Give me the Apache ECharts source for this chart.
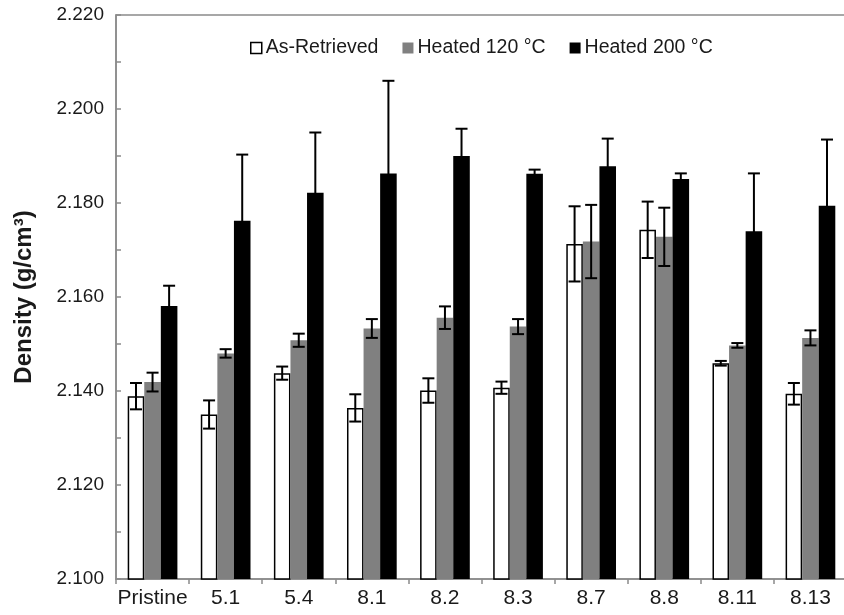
<!DOCTYPE html>
<html>
<head>
<meta charset="utf-8">
<script src="https://cdn.jsdelivr.net/npm/echarts@6/dist/echarts.min.js"></script>
<style>
  html, body { margin: 0; padding: 0; background: #fff; }
  #chart { width: 844px; height: 615px; }
</style>
</head>
<body>
<div id="chart"></div>
<script>
// Sample groups along the x axis
const categories = ['Pristine', '5.1', '5.4', '8.1', '8.2', '8.3', '8.7', '8.8', '8.11', '8.13'];

// Mean density (g/cm³) per treatment
const asRetrieved = [2.1389, 2.1350, 2.1438, 2.1364, 2.1401, 2.1407, 2.1713, 2.1743, 2.1459, 2.1394];
const heated120   = [2.1419, 2.1480, 2.1508, 2.1533, 2.1556, 2.1537, 2.1718, 2.1728, 2.1497, 2.1513];
const heated200   = [2.1581, 2.1762, 2.1822, 2.1863, 2.1900, 2.1862, 2.1878, 2.1851, 2.1740, 2.1794];

// Standard deviations (symmetric error bars)
const asRetrievedErr = [0.0028, 0.0030, 0.0014, 0.0029, 0.0026, 0.0013, 0.0080, 0.0060, 0.0005, 0.0023];
const heated120Err   = [0.0020, 0.0009, 0.0014, 0.0020, 0.0024, 0.0016, 0.0078, 0.0062, 0.0005, 0.0016];
const heated200Err   = [0.0043, 0.0141, 0.0128, 0.0197, 0.0058, 0.0009, 0.0059, 0.0012, 0.0123, 0.0141];

const seriesNames = ['As-Retrieved', 'Heated 120 °C', 'Heated 200 °C'];

const FONT = '"Liberation Sans", Arial, sans-serif';
const TEXT = '#1a1a1a';
const AXIS = '#8a8a8a';
const CAT_GAP = 0.32;

function errorSeries(idx, means, errs) {
  const data = means.map((m, i) => [i, m - errs[i], m + errs[i]]);
  return {
    type: 'custom',
    name: seriesNames[idx] + ' error',
    z: 10,
    silent: true,
    encode: { x: 0, y: [1, 2] },
    data: data,
    renderItem: function (params, api) {
      const band = api.size([1, 0])[0];
      const barW = band * (1 - CAT_GAP) / 3;
      const off = (idx - 1) * barW;
      const lo = api.coord([api.value(0), api.value(1)]);
      const hi = api.coord([api.value(0), api.value(2)]);
      const x = lo[0] + off;
      const cap = 6;
      const style = { stroke: '#000', lineWidth: 2, fill: null };
      return {
        type: 'group',
        children: [
          { type: 'line', shape: { x1: x, y1: lo[1], x2: x, y2: hi[1] }, style: style },
          { type: 'line', shape: { x1: x - cap, y1: hi[1], x2: x + cap, y2: hi[1] }, style: style },
          { type: 'line', shape: { x1: x - cap, y1: lo[1], x2: x + cap, y2: lo[1] }, style: style }
        ]
      };
    }
  };
}

const chart = echarts.init(document.getElementById('chart'), null, { renderer: 'canvas' });

chart.setOption({
  animation: false,
  backgroundColor: '#fff',
  textStyle: { fontFamily: FONT, color: TEXT },
  grid: {
    left: 116, right: -3, top: 15, bottom: 36,
    show: true, borderColor: AXIS, borderWidth: 1.5, backgroundColor: 'transparent',
    containLabel: false, outerBoundsMode: 'none'
  },
  legend: {
    left: 245, top: 33,
    itemWidth: 11, itemHeight: 11, itemGap: 24,
    textStyle: { fontFamily: FONT, fontSize: 19.5, color: TEXT, padding: [0, 0, 0, -1] },
    data: [
      { name: seriesNames[0], icon: 'rect', itemStyle: { color: '#fff', borderColor: '#000', borderWidth: 1.5 } },
      { name: seriesNames[1], icon: 'rect', itemStyle: { color: '#808080' } },
      { name: seriesNames[2], icon: 'rect', itemStyle: { color: '#000' } }
    ]
  },
  xAxis: {
    type: 'category',
    data: categories,
    axisLine: { lineStyle: { color: AXIS, width: 1.5 } },
    axisTick: { show: true, length: 5, lineStyle: { color: AXIS, width: 1.5 } },
    axisLabel: { fontFamily: FONT, fontSize: 21, color: TEXT, margin: 9, interval: 0 },
    splitLine: { show: false }
  },
  yAxis: {
    type: 'value',
    min: 2.1, max: 2.22, interval: 0.02,
    name: 'Density (g/cm³)',
    nameLocation: 'middle',
    nameGap: 80,
    nameRotate: 90,
    nameTextStyle: { fontFamily: FONT, fontSize: 24, fontWeight: 'bold', color: TEXT },
    axisLine: { show: true, lineStyle: { color: AXIS, width: 1.5 } },
    axisTick: { show: true, inside: true, length: 5, lineStyle: { color: AXIS, width: 1.5 } },
    minorTick: { show: true, splitNumber: 2, length: 5, lineStyle: { color: AXIS, width: 1.5 } },
    axisLabel: {
      fontFamily: FONT, fontSize: 19, color: TEXT, margin: 12,
      formatter: v => v.toFixed(3)
    },
    splitLine: { show: false }
  },
  series: [
    {
      name: seriesNames[0], type: 'bar', data: asRetrieved,
      barGap: '0%', barCategoryGap: (CAT_GAP * 100) + '%',
      itemStyle: { color: '#fff', borderColor: '#000', borderWidth: 1.5 }
    },
    {
      name: seriesNames[1], type: 'bar', data: heated120,
      barGap: '0%', barCategoryGap: (CAT_GAP * 100) + '%',
      itemStyle: { color: '#808080' }
    },
    {
      name: seriesNames[2], type: 'bar', data: heated200,
      barGap: '0%', barCategoryGap: (CAT_GAP * 100) + '%',
      itemStyle: { color: '#000' }
    },
    errorSeries(0, asRetrieved, asRetrievedErr),
    errorSeries(1, heated120, heated120Err),
    errorSeries(2, heated200, heated200Err)
  ]
});
</script>
</body>
</html>
